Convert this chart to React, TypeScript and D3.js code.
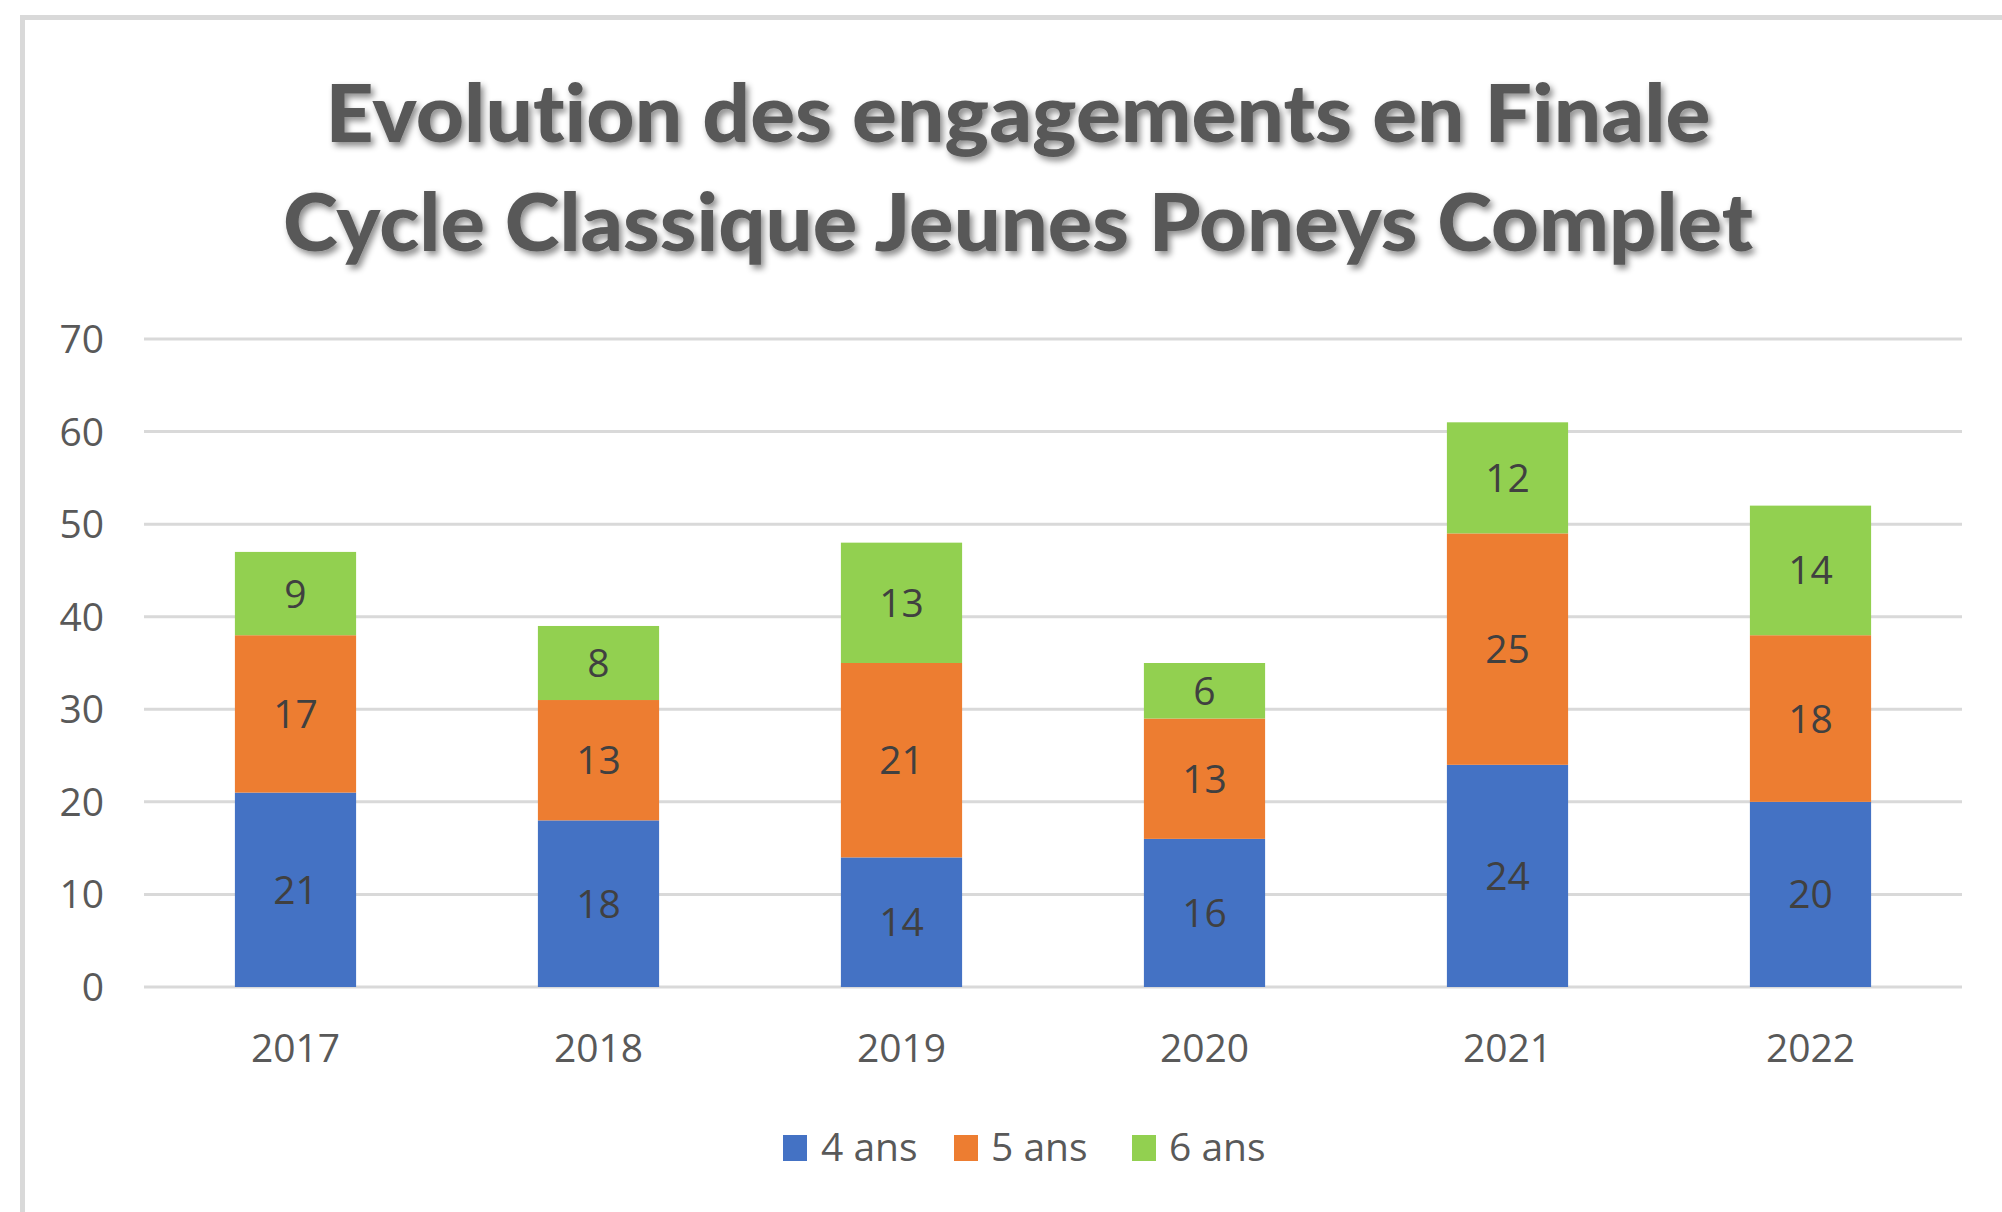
import React from "react";
import * as d3 from "d3";

const years = ["2017", "2018", "2019", "2020", "2021", "2022"];
const seriesNames = ["4 ans", "5 ans", "6 ans"];
const ans4 = [21, 18, 14, 16, 24, 20];
const ans5 = [17, 13, 21, 13, 25, 18];
const ans6 = [9, 8, 13, 6, 12, 14];
const yTicks = [0, 10, 20, 30, 40, 50, 60, 70];
const titleLines = ["Evolution des engagements en Finale", "Cycle Classique Jeunes Poneys Complet"];
const colors = ["#4472C4", "#ED7D31", "#92D050"];

const W = 2002;
const H = 1212;
const left = 144;
const right = 1962;
const top = 339;
const bottom = 987;
const FONT = "'Open Sans', sans-serif";

export default function App() {
  const x = d3.scaleBand<string>().domain(years).range([left, right]).paddingInner(0.6).paddingOuter(0.3);
  const y = d3.scaleLinear().domain([0, 70]).range([bottom, top]);

  const table = years.map((yr, i) => ({ year: yr, "4 ans": ans4[i], "5 ans": ans5[i], "6 ans": ans6[i] }));
  const stack = d3.stack<any>().keys(seriesNames);
  const layers = stack(table);

  const legendItems = [
    { name: seriesNames[0], sq: 783, tx: 821 },
    { name: seriesNames[1], sq: 954, tx: 991 },
    { name: seriesNames[2], sq: 1132, tx: 1169 },
  ];

  return (
    <svg width={W} height={H} style={{ position: "absolute", left: 0, top: 0, background: "#fff" }}>
      <defs>
        <filter id="shadow" x="-5%" y="-30%" width="110%" height="160%">
          <feDropShadow dx="3" dy="4" stdDeviation="3" floodColor="#000" floodOpacity="0.45" />
        </filter>
      </defs>
      <rect x={0} y={0} width={W} height={H} fill="#fff" />
      <rect x={22.5} y={17.5} width={W + 20} height={H + 20} fill="none" stroke="#d9d9d9" strokeWidth={5} />

      {/* title */}
      <g
        filter="url(#shadow)"
        fill="#595959"
        fontFamily="Lato, 'Open Sans', sans-serif"
        fontWeight="900"
        fontSize={80}
        style={{ fontVariantLigatures: "none" }}
      >
        <text x={1018} y={142} textAnchor="middle" textLength={1385} lengthAdjust="spacingAndGlyphs">
          {titleLines[0]}
        </text>
        <text x={1018} y={251} textAnchor="middle" textLength={1470} lengthAdjust="spacingAndGlyphs">
          {titleLines[1]}
        </text>
      </g>

      {/* gridlines */}
      {yTicks.map((t) => (
        <line key={t} x1={left} x2={right} y1={y(t)} y2={y(t)} stroke="#d9d9d9" strokeWidth={3} />
      ))}
      {/* y labels */}
      {yTicks.map((t) => (
        <text key={"l" + t} x={104} y={y(t) + 14} textAnchor="end" fontFamily={FONT} fontSize={39} fill="#595959">
          {t}
        </text>
      ))}

      {/* bars */}
      {layers.map((layer, si) => (
        <g key={layer.key} fill={colors[si]}>
          {layer.map((d, i) => (
            <rect key={i} x={x(years[i])!} width={x.bandwidth()} y={y(d[1])} height={y(d[0]) - y(d[1])} />
          ))}
        </g>
      ))}
      {/* data labels */}
      {layers.map((layer, si) => (
        <g key={"dl" + layer.key}>
          {layer.map((d, i) => (
            <text
              key={i}
              x={x(years[i])! + x.bandwidth() / 2}
              y={(y(d[0]) + y(d[1])) / 2 + 14}
              textAnchor="middle"
              fontFamily={FONT}
              fontSize={39}
              fill="#404040"
            >
              {d[1] - d[0]}
            </text>
          ))}
        </g>
      ))}

      {/* x labels */}
      {years.map((yr) => (
        <text key={yr} x={x(yr)! + x.bandwidth() / 2} y={1062} textAnchor="middle" fontFamily={FONT} fontSize={39} fill="#595959">
          {yr}
        </text>
      ))}

      {/* legend */}
      {legendItems.map((it, i) => (
        <g key={it.name}>
          <rect x={it.sq} y={1135} width={24} height={26} fill={colors[i]} />
          <text x={it.tx} y={1161} fontFamily={FONT} fontSize={39} fill="#595959">
            {it.name}
          </text>
        </g>
      ))}
    </svg>
  );
}
